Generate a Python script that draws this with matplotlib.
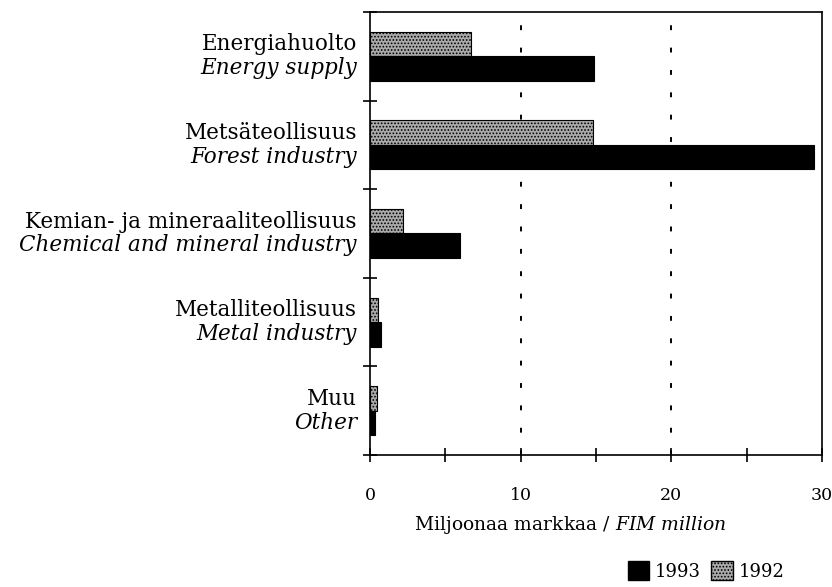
import matplotlib
matplotlib.use("Agg")
import matplotlib.pyplot as plt
from matplotlib.patches import Patch
import matplotlib.transforms as mtransforms

plt.rcParams['font.family'] = ['DejaVu Serif']
plt.rcParams['mathtext.fontset'] = 'custom'
plt.rcParams['mathtext.it'] = 'DejaVu Serif:italic'
plt.rcParams['mathtext.rm'] = 'DejaVu Serif'
plt.rcParams['hatch.color'] = '#444444'
plt.rcParams['hatch.linewidth'] = 0.8

labels_fi = ["Energiahuolto", "Metsäteollisuus", "Kemian- ja mineraaliteollisuus",
             "Metalliteollisuus", "Muu"]
labels_en = ["Energy supply", "Forest industry", "Chemical and mineral industry",
             "Metal industry", "Other"]
values_1993 = [14.9, 29.5, 6.0, 0.7, 0.35]
values_1992 = [6.7, 14.8, 2.2, 0.55, 0.45]
xticks = [0, 10, 20, 30]

fig = plt.figure(figsize=(8.32, 5.87), dpi=100)
ax = fig.add_axes([0.4447, 0.2249, 0.988 - 0.4447, 0.9796 - 0.2249])

pos = list(range(len(labels_fi)))
h = 0.277
ax.barh([p - h / 2 for p in pos], values_1992, height=h, color='#aaaaaa',
        edgecolor='black', linewidth=0.8, hatch='.....', label='1992')
ax.barh([p + h / 2 for p in pos], values_1993, height=h, color='black',
        edgecolor='black', linewidth=0.8, label='1993')

ax.set_xlim(0, 30)
ax.set_ylim(4.5, -0.5)

for x in [10, 20]:
    ax.axvline(x, color='black', linestyle=(0, (2.5, 9)), linewidth=1.4, zorder=0)

ax.set_xticks(xticks)
ax.set_xticklabels([str(t) for t in xticks], fontsize=12.5)
ax.set_xticks([5, 15, 25], minor=True)
ax.tick_params(axis='x', which='both', direction='inout', length=10, width=1.2, pad=18)
ax.set_yticks([-0.5, 0.5, 1.5, 2.5, 3.5, 4.5])
ax.set_yticklabels([])
ax.tick_params(axis='y', direction='inout', length=10, width=1.2)

for s in ax.spines.values():
    s.set_linewidth(1.2)

tr = ax.get_yaxis_transform() + mtransforms.ScaledTranslation(-13 / 100, 0, fig.dpi_scale_trans)
off = 0.135
for p, fi, en in zip(pos, labels_fi, labels_en):
    ax.text(0, p - off, fi, transform=tr, ha='right', va='center', fontsize=15.5)
    ax.text(0, p + off, en, transform=tr, ha='right', va='center', fontsize=15.5,
            style='italic')

fig.text(570 / 832, 1 - 525 / 587, "Miljoonaa markkaa / $\\it{FIM\\ million}$",
         ha='center', va='center', fontsize=13.5)

handles = [Patch(facecolor='black', edgecolor='black', label='1993'),
           Patch(facecolor='#aaaaaa', edgecolor='black', hatch='.....', label='1992')]
fig.legend(handles=handles, loc='center', bbox_to_anchor=(706 / 832, 1 - 571 / 587), ncol=2,
           frameon=False, fontsize=13, handlelength=1.2, handleheight=1.2,
           handletextpad=0.3, columnspacing=0.6)

fig.savefig("out.png", dpi=100)
